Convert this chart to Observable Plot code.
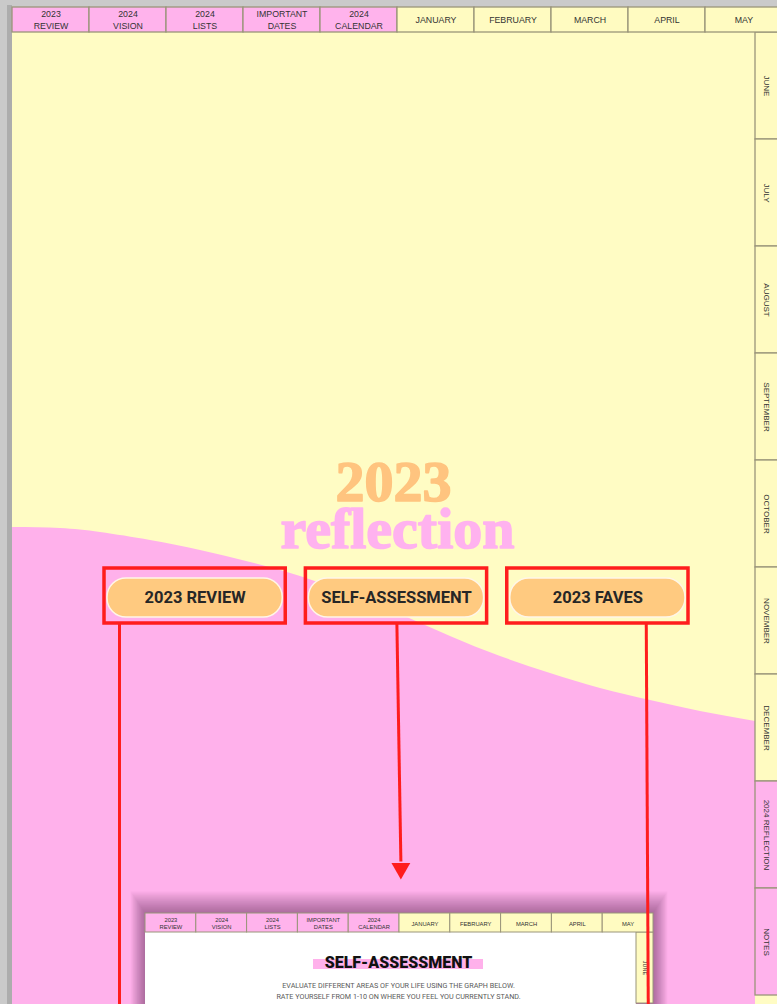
<!DOCTYPE html>
<html><head><meta charset="utf-8">
<script src="https://cdn.jsdelivr.net/npm/d3@7"></script>
<script src="https://cdn.jsdelivr.net/npm/@observablehq/plot@0.6"></script>
<style>html,body{margin:0;padding:0;background:#fff;overflow:hidden}svg{display:block}</style>
</head><body><div id="chart"></div>
<script>
// ---------- DATA ----------
const topTabs = ["2023\nREVIEW","2024\nVISION","2024\nLISTS","IMPORTANT\nDATES","2024\nCALENDAR","JANUARY","FEBRUARY","MARCH","APRIL","MAY"];
const topTabGroup = ["section","section","section","section","section","month","month","month","month","month"];
const sideTabs = ["JUNE","JULY","AUGUST","SEPTEMBER","OCTOBER","NOVEMBER","DECEMBER","2024 REFLECTION","NOTES"];
const sideTabGroup = ["month","month","month","month","month","month","month","section","section"];
const titleLines = ["2023","reflection"];
const buttons = ["2023 REVIEW","SELF-ASSESSMENT","2023 FAVES"];
const waveX = [12, 60, 100, 150, 200, 250, 300, 350, 400, 450, 500, 550, 600, 650, 700, 755];
const waveY = [527, 528, 532, 540, 550, 562, 576, 594, 614, 636, 656, 673, 688, 700, 711, 721];
const insetTitle = "SELF-ASSESSMENT";
const insetLines = ["EVALUATE DIFFERENT AREAS OF YOUR LIFE USING THE GRAPH BELOW.","RATE YOURSELF FROM 1-10 ON WHERE YOU FEEL YOU CURRENTLY STAND."];

// ---------- LAYOUT & STYLE ----------
const C = {gray:"#cacaca", grayDark:"#adadad", yellow:"#fffcc4", pink:"#ffb1eb", tabPink:"#ffb3ec", tabYellow:"#fffbc1",
  tabStroke:"#9a957a", tabText:"#333333", orange:"#ffc47f", titlePink:"#ffb2ef", button:"#ffca80",
  red:"#ff1d1d", ink:"#262626", white:"#ffffff", shadow:"#3c0f30", sub:"#5a5a5a"};
const L = {
  W:777, H:1004,
  page:{x1:12, y1:7, x2:777, y2:1004},
  top:{range:[12,782], y1:7, y2:32, y:19, font:8.8},
  side:{x1:755, x2:795, range:[32,995], font:8},
  title:{x:[393,397], y:[500,547], size:[58,58]},
  btn:{range:[104,688], padding:0.1, y1:568, y2:623, pad:[3,10,3,6], textY:597},
  lines:{fromY:623, toY:1004, arrowY:868, dx1:[15,91,139], dx2:[15,95,141]},
  inset:{x1:145, x2:653, y1:913, tabY2:932, strip:636, tabRange:[145,653], sideRange:[932,1003],
    titleX:398, titleY:967, barX:[313,483], barY:[959,969], subY:[987,998]}
};
const color = g => g === "section" ? C.tabPink : C.tabYellow;

// scales for categorical layout
const topBand = d3.scaleBand().domain(topTabs).range(L.top.range);
const sideBand = d3.scaleBand().domain(sideTabs).range(L.side.range);
const btnBand = d3.scaleBand().domain(buttons).range(L.btn.range).paddingInner(L.btn.padding);
const insetTopBand = d3.scaleBand().domain(topTabs).range(L.inset.tabRange);
const insetSideBand = d3.scaleBand().domain(sideTabs.slice(0,1)).range(L.inset.sideRange);

// data tables built from arrays
const topTable = topTabs.map((t,i) => ({t, x1: topBand(t), x2: topBand(t)+topBand.bandwidth(), fill: color(topTabGroup[i])}));
const sideTable = sideTabs.map((t,i) => ({t, y1: sideBand(t), y2: sideBand(t)+sideBand.bandwidth(), fill: color(sideTabGroup[i])}));
const btnTable = buttons.map((t,i) => ({t, i, x1: btnBand(t), x2: btnBand(t)+btnBand.bandwidth()}));
const insetTop = topTabs.map((t,i) => ({t, x1: insetTopBand(t), x2: insetTopBand(t)+insetTopBand.bandwidth(), fill: color(topTabGroup[i])}));
const insetSide = sideTabs.slice(0,1).map((t,i) => ({t, y1: insetSideBand(t), y2: insetSideBand(t)+insetSideBand.bandwidth(), fill: color(sideTabGroup[i])}));
const wave = waveX.map((x,i) => ({x, y: waveY[i]}));
const shadowSteps = d3.range(1, 19).map(i => ({i}));

const I = L.inset;
const box = (d) => [d];
const rectOpts = {x1:"x1",x2:"x2",y1:"y1",y2:"y2"};
const arrowBtn = btnTable.filter(d => d.t === "SELF-ASSESSMENT");
const titleTable = titleLines.map((t,i) => ({t,i}));

const marks = [
  // outer grey background and page shadow
  Plot.rect(box({x1:0,x2:L.W,y1:0,y2:L.H}), {...rectOpts, fill:C.gray}),
  Plot.rect(box({x1:L.page.x1-5,x2:L.page.x1,y1:L.page.y1-2,y2:L.H}), {...rectOpts, fill:C.grayDark}),
  // page body
  Plot.rect(box(L.page), {...rectOpts, fill:C.yellow}),
  // pink wave
  Plot.areaY(wave, {x:"x", y1:"y", y2: () => L.H, curve:"natural", fill:C.pink}),
  // side tabs
  Plot.rect(sideTable, {x1: () => L.side.x1, x2: () => L.side.x2, y1:"y1", y2:"y2", fill:"fill", stroke:C.tabStroke, strokeWidth:1.3}),
  Plot.text(sideTable, {x: () => (L.side.x1+L.W)/2 + 0.5, y: d => (d.y1+d.y2)/2, text:"t", rotate:90, fontSize:L.side.font,
    fontFamily:"Liberation Sans, Arial, sans-serif", fill:C.tabText}),
  // top tabs
  Plot.rect(topTable, {x1:"x1", x2:"x2", y1: () => L.top.y1, y2: () => L.top.y2, fill:"fill", stroke:C.tabStroke, strokeWidth:1.3}),
  Plot.text(topTable, {x: d => (d.x1+d.x2)/2, y: () => L.top.y, text:"t", fontSize:L.top.font, lineHeight:1.28,
    fontFamily:"Liberation Sans, Arial, sans-serif", fill:C.tabText}),
  // title
  Plot.text(titleTable, {x: d => L.title.x[d.i], y: d => L.title.y[d.i], text:"t", lineAnchor:"bottom",
    fontSize: d => L.title.size[d.i], fontWeight:"bold", fontFamily:"Liberation Serif, DejaVu Serif, serif",
    fill: d => d.i === 0 ? C.orange : C.titlePink, stroke: d => d.i === 0 ? C.orange : C.titlePink, strokeWidth:1.6,
    letterSpacing: 0.5}),
  // buttons: pills and red highlight frames
  Plot.rect(btnTable, {x1: d => d.x1+L.btn.pad[0], x2: d => d.x2-L.btn.pad[0], y1: () => L.btn.y1+L.btn.pad[1], y2: () => L.btn.y2-L.btn.pad[3],
    fill:C.button, stroke:"#fff6e8", strokeWidth:1.5, rx:19}),
  Plot.text(btnTable, {x: d => (d.x1+d.x2)/2, y: () => L.btn.textY, text:"t", fontSize:16.5, fontWeight:700,
    fontFamily:"Roboto, sans-serif", fill:C.ink}),
  Plot.rect(btnTable, {x1:"x1", x2:"x2", y1: () => L.btn.y1, y2: () => L.btn.y2, fill:"none", stroke:C.red, strokeWidth:3.5}),
  // inset: shadow
  Plot.rect(shadowSteps, {x1: d => I.x1 - d.i*0.8, x2: d => I.x2 + d.i*0.8, y1: d => I.y1 - d.i*1.2, y2: () => L.H + 20, fill:C.shadow, fillOpacity:0.025}),
  // inset: body
  Plot.rect(box({x1:I.x1, x2:I.strip, y1:I.tabY2, y2:L.H}), {...rectOpts, fill:C.white}),
  Plot.rect(insetSide, {x1: () => I.strip, x2: () => I.x2, y1:"y1", y2:"y2", fill:"fill", stroke:C.tabStroke, strokeWidth:1}),
  Plot.text(insetSide, {x: () => (I.strip+I.x2)/2, y: d => (d.y1+d.y2)/2, text:"t", rotate:90, fontSize:5.5,
    fontFamily:"Liberation Sans, Arial, sans-serif", fill:C.tabText}),
  Plot.rect(insetTop, {x1:"x1", x2:"x2", y1: () => I.y1, y2: () => I.tabY2, fill:"fill", stroke:C.tabStroke, strokeWidth:1}),
  Plot.text(insetTop, {x: d => (d.x1+d.x2)/2, y: () => (I.y1+I.tabY2)/2 + 0.5, text:"t", fontSize:5.8, lineHeight:1.25,
    fontFamily:"Liberation Sans, Arial, sans-serif", fill:C.tabText}),
  Plot.rect(box({x1:I.barX[0], x2:I.barX[1], y1:I.barY[0], y2:I.barY[1]}), {...rectOpts, fill:C.pink}),
  Plot.text([insetTitle], {x: () => I.titleX, y: () => I.titleY, text: d => d, lineAnchor:"bottom", fontSize:16, fontWeight:900,
    fontFamily:"Roboto, sans-serif", fill:"#111"}),
  Plot.text(insetLines.map((t,i) => ({t,i})), {x: () => I.titleX, y: d => I.subY[d.i], text:"t", lineAnchor:"bottom", fontSize:7.2,
    fontFamily:"Roboto, sans-serif", fontWeight:400, fill:C.sub}),
  // red connector lines
  Plot.link(btnTable, {x1: d => d.x1 + L.lines.dx1[d.i], y1: () => L.lines.fromY,
    x2: d => d.x1 + L.lines.dx2[d.i], y2: d => d.t === "SELF-ASSESSMENT" ? L.lines.arrowY - 7 : L.lines.toY,
    stroke:C.red, strokeWidth:3}),
  Plot.dot(arrowBtn, {x: d => d.x1 + L.lines.dx2[d.i], y: () => L.lines.arrowY, symbol:"triangle", rotate:180,
    r:7, fill:C.red, stroke:"none"})
];

const chart = Plot.plot({
  width: L.W, height: L.H, margin: 0,
  x: {type:"identity", axis:null}, y: {type:"identity", axis:null},
  color: {type:"identity"},
  style: {background:"transparent", overflow:"hidden"},
  marks
});
document.getElementById("chart").append(chart);
</script></body></html>
